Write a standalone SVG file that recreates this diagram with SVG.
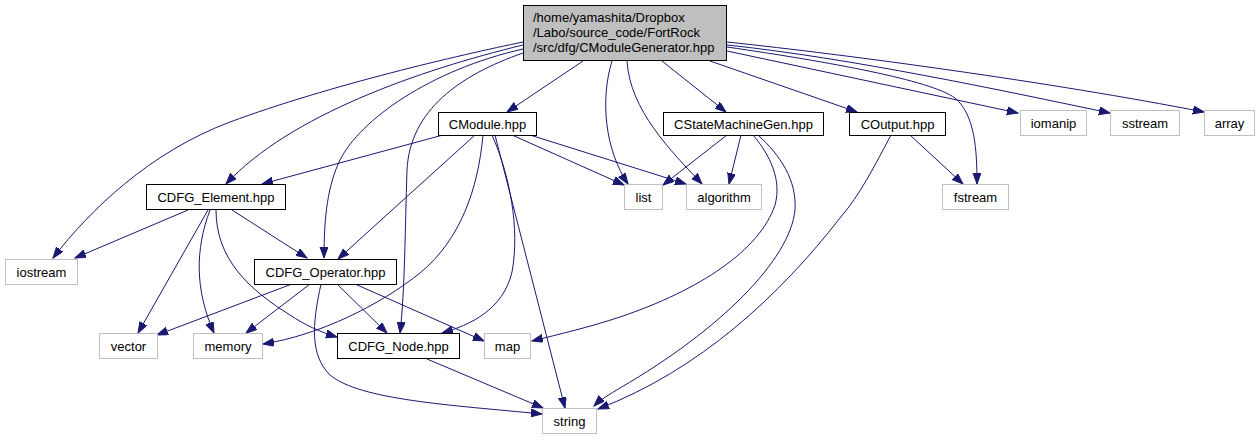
<svg xmlns="http://www.w3.org/2000/svg" width="1260" height="440" viewBox="0 0 1260 440">
<defs>
<style>
.n rect{fill:#fff;stroke:#000;stroke-width:1}
.g rect{fill:#fff;stroke:#bfbfbf;stroke-width:1}
.m rect{fill:#bfbfbf;stroke:#000;stroke-width:1}
text{font-family:"Liberation Sans",Arial,Helvetica,sans-serif;font-size:13px;fill:#000}
.c{text-anchor:middle}
#edges path{fill:none;stroke:#191970;stroke-width:1;marker-end:url(#ah)}
</style>
<marker id="ah" markerUnits="userSpaceOnUse" markerWidth="12" markerHeight="10" refX="11" refY="4" orient="auto">
<polygon points="0,0 11,4 0,8" fill="#191970" stroke="#191970" stroke-width="1"/>
</marker>
</defs>
<rect width="1260" height="440" fill="#fff"/>
<g id="edges">
<path d="M583,61 L507,112"/>
<path d="M662,61 L726,112"/>
<path d="M710,61 L857,112"/>
<path d="M612,61 C600,100 605,150 628,184"/>
<path d="M627,61 C630,110 670,150 702,184"/>
<path d="M727,47 C830,62 930,80 955,98 C975,115 977,150 977,184"/>
<path d="M727,51 L1018,113"/>
<path d="M727,45 C850,58 1000,90 1110,113"/>
<path d="M727,42 C850,55 1050,82 1204,112"/>
<path d="M523,45 C420,70 290,115 226,184"/>
<path d="M523,42 C460,55 330,85 230,122 C150,152 90,210 53,258"/>
<path d="M523,49 C430,70 360,120 340,160 C328,185 324,215 324,258"/>
<path d="M523,53 C460,75 410,110 407,170 C405,230 405,290 400,333"/>
<path d="M443,135 L262,184"/>
<path d="M475,135 L338,259"/>
<path d="M483,135 C478,190 460,240 420,273 C380,305 320,335 263,344"/>
<path d="M492,135 C510,175 520,230 512,272 C503,310 470,325 442,333"/>
<path d="M495,135 L565,408"/>
<path d="M512,135 L624,185"/>
<path d="M530,135 L686,184"/>
<path d="M727,135 L663,185"/>
<path d="M741,135 L729,184"/>
<path d="M753,135 C770,155 782,180 775,205 C760,250 700,290 620,317 C590,327 560,334 532,341"/>
<path d="M758,135 C780,155 797,180 795,210 C790,260 720,330 620,388 C610,394 600,400 594,406"/>
<path d="M891,135 C875,165 860,195 840,218 C780,295 700,370 598,409"/>
<path d="M910,135 L963,184"/>
<path d="M188,210 L75,258"/>
<path d="M232,210 L307,258"/>
<path d="M208,210 L138,333"/>
<path d="M210,210 C195,250 195,290 214,333"/>
<path d="M216,210 C216,260 250,290 290,315 C305,325 320,332 337,337"/>
<path d="M292,284 L157,335"/>
<path d="M310,284 L246,333"/>
<path d="M337,284 L387,333"/>
<path d="M355,284 L484,341"/>
<path d="M321,284 C312,325 310,355 330,375 C360,400 450,405 542,414"/>
<path d="M427,359 L543,408"/>
</g>
<g id="main" class="m"><rect x="523.5" y="5.5" width="203" height="55"/>
<text x="533" y="22">/home/yamashita/Dropbox</text>
<text x="533" y="37">/Labo/source_code/FortRock</text>
<text x="533" y="52">/src/dfg/CModuleGenerator.hpp</text></g>
<g id="cmodule" class="n"><rect x="438.5" y="112.5" width="98" height="23"/><text class="c" x="487.5" y="128.5">CModule.hpp</text></g>
<g id="cstatemachinegen" class="n"><rect x="663.5" y="112.5" width="160" height="23"/><text class="c" x="743.5" y="128.5">CStateMachineGen.hpp</text></g>
<g id="coutput" class="n"><rect x="849.5" y="112.5" width="96" height="23"/><text class="c" x="897.5" y="128.5">COutput.hpp</text></g>
<g id="iomanip" class="g"><rect x="1020.5" y="110.5" width="66" height="25"/><text class="c" x="1053.5" y="127.5">iomanip</text></g>
<g id="sstream" class="g"><rect x="1110.5" y="110.5" width="69" height="25"/><text class="c" x="1145" y="127.5">sstream</text></g>
<g id="array" class="g"><rect x="1204.5" y="110.5" width="50" height="25"/><text class="c" x="1229.5" y="127.5">array</text></g>
<g id="cdfg_element" class="n"><rect x="146.5" y="184.5" width="139" height="25"/><text class="c" x="216" y="201.5">CDFG_Element.hpp</text></g>
<g id="list" class="g"><rect x="624.5" y="184.5" width="38" height="25"/><text class="c" x="643.5" y="201.5">list</text></g>
<g id="algorithm" class="g"><rect x="686.5" y="184.5" width="75" height="25"/><text class="c" x="724" y="201.5">algorithm</text></g>
<g id="fstream" class="g"><rect x="942.5" y="184.5" width="66" height="25"/><text class="c" x="975.5" y="201.5">fstream</text></g>
<g id="iostream" class="g"><rect x="5.5" y="259.5" width="72" height="25"/><text class="c" x="41.5" y="276.5">iostream</text></g>
<g id="cdfg_operator" class="n"><rect x="254.5" y="259.5" width="142" height="25"/><text class="c" x="325.5" y="276.5">CDFG_Operator.hpp</text></g>
<g id="vector" class="g"><rect x="99.5" y="333.5" width="58" height="25"/><text class="c" x="128.5" y="350.5">vector</text></g>
<g id="memory" class="g"><rect x="193.5" y="333.5" width="69" height="25"/><text class="c" x="228" y="350.5">memory</text></g>
<g id="cdfg_node" class="n"><rect x="337.5" y="333.5" width="122" height="25"/><text class="c" x="398.5" y="350.5">CDFG_Node.hpp</text></g>
<g id="map" class="g"><rect x="484.5" y="333.5" width="46" height="25"/><text class="c" x="507.5" y="350.5">map</text></g>
<g id="string" class="g"><rect x="542.5" y="408.5" width="54" height="25"/><text class="c" x="569.5" y="425.5">string</text></g>
</svg>
